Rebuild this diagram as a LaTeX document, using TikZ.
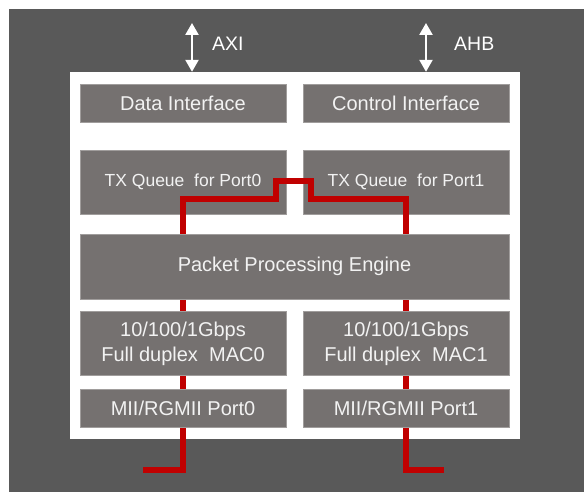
\documentclass[tikz,border=0pt]{standalone}
\usepackage{fontspec}
\setmainfont{Liberation Sans}
\usetikzlibrary{arrows.meta}
\definecolor{bgdark}{RGB}{89,89,89}
\definecolor{boxgray}{RGB}{117,113,112}
\definecolor{boxedge}{RGB}{160,157,156}
\definecolor{txtwhite}{RGB}{242,242,242}
\definecolor{linkred}{RGB}{192,0,0}
\tikzset{
  blk/.style={draw=boxedge, line width=0.6pt, fill=boxgray, text=txtwhite, inner sep=0pt,
    minimum width=206pt, font=\fontsize{20pt}{25pt}\selectfont, align=center},
  blkshort/.style={blk, minimum height=38pt},
  blktall/.style={blk, minimum height=64pt},
  redlink/.style={draw=linkred, line width=6pt, line join=miter, line cap=butt},
  busarrow/.style={draw=white, line width=2.4pt, {Triangle[width=13pt,length=12pt]}-{Triangle[width=13pt,length=12pt]}},
  buslabel/.style={text=white, anchor=west, inner sep=0pt, font=\fontsize{19.5pt}{23pt}\selectfont}
}
\begin{document}
\begin{tikzpicture}[x=1pt,y=-1pt]
\useasboundingbox (0,0) rectangle (584,492);
\fill[white] (0,0) rectangle (584,492);
\fill[bgdark] (9,9) rectangle (584,492);
% chip outline
\node[fill=white, inner sep=0pt, minimum width=450pt, minimum height=367pt] (chip) at (295,255.5) {};
% interfaces
\node[blkshort] (di) at (183,103) {Data Interface};
\node[blkshort] (ci) at (406,103) {Control Interface};
% tx queues
\node[blktall, font=\fontsize{17.5pt}{21pt}\selectfont] (tx0) at (183,182) {TX Queue\ \ for Port0};
\node[blktall, font=\fontsize{17.5pt}{21pt}\selectfont] (tx1) at (406,182) {TX Queue\ \ for Port1};
% red path coordinates
\coordinate (e0) at (143,470);
\coordinate (c0) at (183,470);
\coordinate (u0) at (183,199);
\coordinate (s0) at (275.5,199);
\coordinate (t0) at (275.5,181.5);
\coordinate (t1) at (310.5,181.5);
\coordinate (s1) at (310.5,199);
\coordinate (u1) at (406,199);
\coordinate (c1) at (406,470);
\coordinate (e1) at (444,470);
\draw[redlink] (e0) -- (c0) -- (u0) -- (s0) -- (t0) -- (t1) -- (s1) -- (u1) -- (c1) -- (e1);
% engine, MACs, ports (over the red path)
\node[blk, minimum width=429pt, minimum height=65pt] (ppe) at (294.5,266.5) {Packet Processing Engine};
\node[blktall] (mac0) at (183,343.5) {10/100/1Gbps\\Full duplex\ \ MAC0};
\node[blktall] (mac1) at (406,343.5) {10/100/1Gbps\\Full duplex\ \ MAC1};
\node[blkshort] (mii0) at (183,408) {MII/RGMII Port0};
\node[blkshort] (mii1) at (406,408) {MII/RGMII Port1};
% buses
\coordinate (axitop) at (192,23);
\coordinate (ahbtop) at (426,23);
\draw[busarrow] (axitop) -- (axitop |- chip.north);
\draw[busarrow] (ahbtop) -- (ahbtop |- chip.north);
\node[buslabel] (axi) at (212,44) {AXI};
\node[buslabel] (ahb) at (454,44) {AHB};
\end{tikzpicture}
\end{document}
